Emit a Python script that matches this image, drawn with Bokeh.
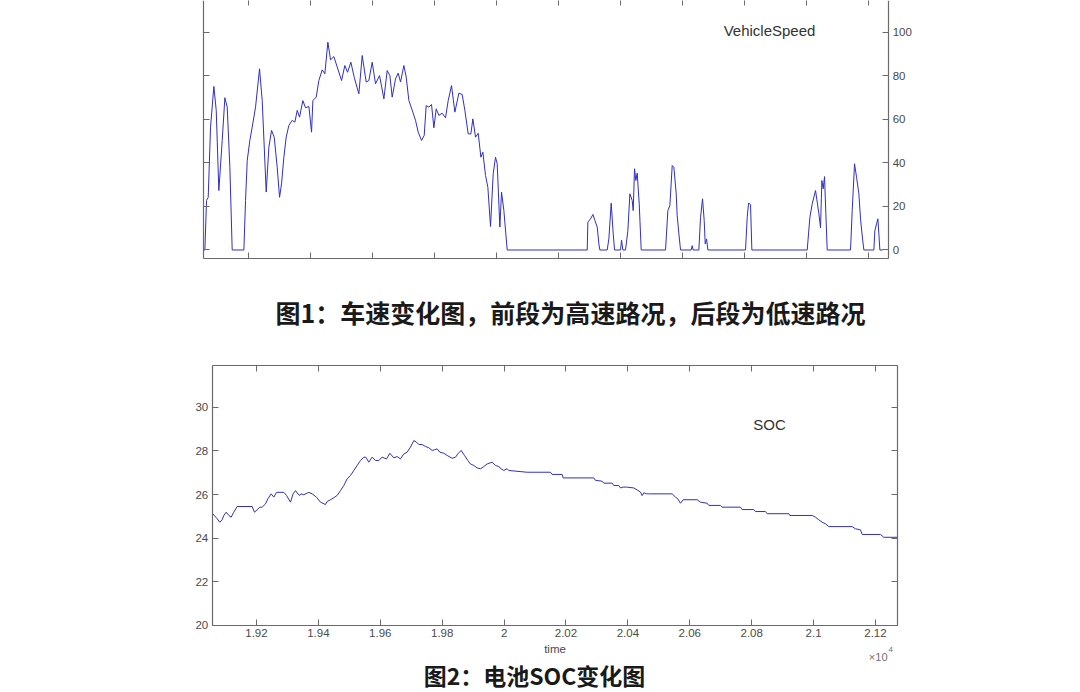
from bokeh.plotting import figure
from bokeh.layouts import column
from bokeh.models import (Range1d, LinearAxis, FixedTicker, Label, CustomLabelingPolicy)
from bokeh.embed import file_html
from bokeh.resources import INLINE

# ---- data -------------------------------------------------------------
speed_time = [19057, 19060.3, 19065.7, 19071.1, 19078.6, 19089.3, 19096.9, 19105.4, 19116.2,
              19124.8, 19132.3, 19140.9, 19148.4, 19186.0, 19191.4, 19196.8, 19205.3,
              19212.9, 19223.6, 19236.5, 19245.1, 19258.0, 19266.6, 19275.2, 19283.8,
              19293.4, 19301.0, 19307.4, 19314.9, 19322.4, 19331.0, 19341.8, 19350.4,
              19357.9, 19365.4, 19376.1, 19384.7, 19395.5, 19404.1, 19408.4, 19419.1,
              19427.7, 19438.4, 19447.0, 19456.7, 19465.3, 19476.0, 19486.8, 19500.8,
              19511.5, 19520.1, 19530.8, 19541.6, 19556.6, 19567.4, 19580.2, 19588.8,
              19599.6, 19610.3, 19623.2, 19637.2, 19647.9, 19656.5, 19664.0, 19674.8,
              19683.4, 19690.9, 19701.6, 19709.2, 19717.8, 19730.6, 19739.2, 19747.8,
              19758.6, 19767.2, 19773.6, 19782.2, 19790.8, 19798.3, 19805.8, 19814.4,
              19825.1, 19835.9, 19844.5, 19855.2, 19866.0, 19878.9, 19889.6, 19898.2,
              19908.9, 19917.5, 19924.0, 19932.6, 19941.2, 19949.8, 19956.2, 19964.8,
              19972.3, 19980.9, 19989.5, 19997.0, 20002.4, 20011.0, 20016.4, 20023.9,
              20034.6, 20292.5, 20294.6, 20303.2, 20310.8, 20317.2, 20324.7, 20330.1,
              20333.3, 20356.9, 20362.3, 20369.8, 20376.3, 20380.6, 20399.9, 20403.1,
              20407.4, 20416.0, 20423.5, 20430.0, 20437.5, 20440.7, 20445.0, 20449.3,
              20453.6, 20460.1, 20466.5, 20544.9, 20552.4, 20558.9, 20566.4, 20571.8,
              20579.3, 20582.5, 20587.9, 20593.3, 20627.6, 20630.9, 20634.1, 20652.3,
              20657.7, 20664.2, 20669.5, 20672.8, 20677.1, 20681.4, 20802.7, 20808.1,
              20812.4, 20818.8, 20823.1, 21001.5, 21010.1, 21017.6, 21028.3, 21033.7,
              21039.1, 21044.4, 21048.7, 21053.0, 21057.3, 21061.6, 21065.9, 21141.1,
              21146.5, 21154.0, 21160.5, 21168.0, 21173.3, 21179.8, 21184.1, 21216.3,
              21219.5, 21224.9, 21229.2, 21232.4, 21235.6, 21245.0]
speed_kmh = [0, 0, 22.7, 24.2, 56.4, 75.1, 64.1, 27.3, 50.3,
             69.9, 65.6, 38.0, 0, 0, 22.7, 41.1, 50.3,
             56.4, 65.6, 83.2, 68.6, 26.6, 47.2, 54.9, 51.8,
             38.0, 24.2, 30.4, 42.6, 51.8, 57.2, 59.5, 58.7,
             64.1, 61.0, 68.6, 65.3, 65.9, 54.1, 68.6, 70.2,
             77.8, 82.7, 80.9, 95.4, 87.3, 88.8, 84.0, 77.8,
             84.7, 81.6, 86.2, 79.3, 71.7, 89.3, 77.1, 77.8,
             86.2, 76.3, 80.1, 69.4, 82.4, 80.1, 70.2, 78.6,
             81.2, 77.1, 84.7, 79.4, 68.6, 63.3, 59.5, 54.1,
             50.3, 52.6, 66.3, 65.6, 66.8, 56.1, 64.8, 61.8,
             62.8, 60.7, 68.6, 75.5, 63.3, 72.0, 71.4, 64.1,
             53.3, 53.3, 60.2, 51.8, 53.6, 42.6, 44.9, 34.2,
             28.8, 10.8, 35.0, 42.6, 39.6, 10.5, 26.6, 18.1,
             0, 0, 12.8, 14.3, 16.3, 13.6, 10.5, 2.8,
             0, 0, 5.1, 21.5, 7.4, 0, 0, 4.6,
             0, 0, 8.9, 25.8, 22.7, 18.1, 37.3, 31.9,
             35.3, 21.2, 0, 0, 18.1, 20.4, 38.8, 38.0,
             25.8, 15.8, 7.4, 0, 0, 2.0, 0, 0,
             15.0, 23.5, 13.5, 2.8, 5.1, 0, 0, 15.0,
             21.5, 20.9, 0, 0, 15.0, 21.2, 27.3, 22.0,
             16.6, 10.2, 31.9, 28.1, 33.7, 16.6, 0, 0,
             18.1, 39.6, 33.4, 25.8, 14.3, 5.1, 0, 0,
             8.9, 12.0, 14.3, 7.4, 0, 0]

soc_time = [19056.7, 19072.9, 19081.5, 19089.0, 19094.4, 19102.0, 19110.6, 19118.1, 19126.7,
            19137.5, 19186.0, 19193.5, 19202.1, 19210.7, 19218.3, 19229.0, 19236.6,
            19247.3, 19256.0, 19264.6, 19288.3, 19296.9, 19309.8, 19318.4, 19326.0,
            19333.5, 19340.0, 19344.3, 19352.9, 19369.1, 19379.8, 19393.8, 19406.7,
            19422.9, 19428.3, 19439.0, 19449.8, 19460.6, 19471.4, 19482.1, 19492.9,
            19503.7, 19514.4, 19525.2, 19536.0, 19546.8, 19553.2, 19562.9, 19573.7,
            19584.4, 19595.2, 19606.0, 19620.0, 19630.8, 19643.7, 19654.5, 19665.2,
            19676.0, 19686.8, 19697.5, 19708.3, 19716.9, 19724.5, 19735.2, 19746.0,
            19756.8, 19767.5, 19775.1, 19783.7, 19792.3, 19805.2, 19816.0, 19832.2,
            19843.0, 19850.5, 19861.2, 19872.0, 19882.8, 19891.4, 19902.2, 19912.9,
            19923.7, 19934.5, 19945.2, 19961.4, 19972.2, 19982.9, 19990.5, 19999.1,
            20009.9, 20015.2, 20074.5, 20149.9, 20155.3, 20187.6, 20190.8, 20289.9,
            20295.3, 20316.8, 20322.2, 20349.2, 20354.5, 20370.7, 20376.1, 20384.7,
            20395.5, 20419.2, 20429.9, 20440.7, 20446.1, 20451.5, 20460.1, 20467.6,
            20543.0, 20553.8, 20561.3, 20569.9, 20578.6, 20623.8, 20634.6, 20656.1,
            20661.5, 20699.2, 20704.6, 20763.8, 20769.2, 20806.9, 20812.3, 20844.6,
            20850.0, 20920.0, 20923.2, 20995.4, 21006.1, 21016.9, 21027.7, 21038.4,
            21049.2, 21124.6, 21135.4, 21151.5, 21156.9, 21216.1, 21226.9, 21269.9]
soc_pct = [25.15, 24.89, 24.73, 24.84, 25.04, 25.19, 25.04, 24.96, 25.19,
           25.45, 25.45, 25.19, 25.30, 25.42, 25.42, 25.57, 25.80,
           26.03, 25.88, 26.10, 26.10, 25.96, 25.65, 26.03, 26.18,
           26.03, 25.96, 26.03, 25.99, 26.10, 26.03, 25.88, 25.65,
           25.54, 25.68, 25.76, 25.85, 25.96, 26.18, 26.41, 26.72,
           26.87, 27.10, 27.33, 27.56, 27.71, 27.71, 27.48, 27.71,
           27.56, 27.56, 27.71, 27.63, 27.89, 27.68, 27.74, 27.63,
           27.86, 27.94, 28.17, 28.47, 28.40, 28.29, 28.29, 28.20,
           28.14, 28.02, 28.05, 28.09, 27.94, 27.89, 27.79, 27.66,
           27.71, 27.86, 28.02, 27.79, 27.56, 27.40, 27.33, 27.22,
           27.18, 27.28, 27.40, 27.48, 27.33, 27.28, 27.18, 27.10,
           27.18, 27.10, 27.02, 27.02, 26.92, 26.92, 26.76, 26.76,
           26.65, 26.61, 26.52, 26.52, 26.41, 26.41, 26.30, 26.34,
           26.34, 26.30, 26.21, 26.11, 25.95, 26.08, 26.03, 26.03,
           26.03, 25.88, 25.80, 25.60, 25.76, 25.76, 25.65, 25.60,
           25.50, 25.50, 25.42, 25.42, 25.31, 25.31, 25.22, 25.22,
           25.12, 25.12, 25.04, 25.04, 24.96, 24.84, 24.73, 24.66,
           24.53, 24.53, 24.43, 24.38, 24.17, 24.17, 24.04, 24.04]

time_ticks = [19200, 19400, 19600, 19800, 20000, 20200, 20400, 20600, 20800, 21000, 21200]
time_tick_labels = ["1.92", "1.94", "1.96", "1.98", "2", "2.02", "2.04", "2.06", "2.08", "2.1", "2.12"]
speed_ticks = [0, 20, 40, 60, 80, 100]
soc_ticks = [20, 22, 24, 26, 28, 30]

# ---- styling ----------------------------------------------------------
W = 1080
LINE = "#2f2fc4"
AXIS = "#6a6a6a"
TICKTXT = "#4a4a4a"
FONT = "Liberation Sans"
CJK = "Noto Sans CJK SC"
NO_LABELS = "for (const i of indices) indices.unset(i)"

# axes box of each panel, in data units
SPEED_BOX = dict(left=19057, right=21264, bottom=-4.04, top=115.0)
SOC_BOX = dict(left=19057, right=21270, bottom=20.0, top=31.91)


def make_axis(ticks, loc, bounds, labels=True, overrides=None, line=True):
    ax = LinearAxis(ticker=FixedTicker(ticks=ticks), fixed_location=loc, bounds=bounds)
    ax.major_tick_in = 6
    ax.major_tick_out = 0
    ax.minor_tick_line_color = None
    ax.major_tick_line_color = AXIS
    ax.axis_line_color = AXIS if line else None
    ax.axis_line_width = 1.2
    ax.major_label_text_font = FONT
    ax.major_label_text_color = TICKTXT
    ax.major_label_text_font_size = "11.5px"
    ax.major_label_standoff = 4
    if labels:
        if overrides:
            ax.major_label_overrides = overrides
    else:
        ax.major_label_policy = CustomLabelingPolicy(code=NO_LABELS)
    return ax


def blank_figure(height, x_range, y_range):
    p = figure(width=W, height=height, output_backend="svg", toolbar_location=None,
               x_range=x_range, y_range=y_range,
               x_axis_location=None, y_axis_location=None,
               min_border=0)
    p.outline_line_color = None
    p.grid.visible = False
    p.background_fill_color = "white"
    p.border_fill_color = "white"
    return p


def label(p, x, y, text, size, align="center", font=FONT, bold=False, color="#333333"):
    p.add_layout(Label(x=x, y=y, x_units="screen", y_units="screen", text=text,
                       text_font=font, text_font_size=size,
                       text_font_style="bold" if bold else "normal",
                       text_color=color, text_align=align, text_baseline="middle"))


overrides = {t: s for t, s in zip(time_ticks, time_tick_labels)}

# ---- vehicle speed ----------------------------------------------------
H1 = 345
p1 = blank_figure(H1, Range1d(18401.7, 21882.2), Range1d(-43.85, 114.55))
b = SPEED_BOX
xb = (b["left"], b["right"])
yb = (b["bottom"], b["top"])
p1.add_layout(make_axis(time_ticks, b["bottom"], xb, labels=False), "below")
p1.add_layout(make_axis(time_ticks, b["top"], xb, labels=False), "above")
p1.add_layout(make_axis(speed_ticks, b["left"], yb, labels=False), "left")
p1.add_layout(make_axis(speed_ticks, b["right"], yb, labels=True), "right")

p1.line(speed_time, speed_kmh, line_color=LINE, line_width=1)

label(p1, 769, 315, "VehicleSpeed", "15px")
label(p1, 570, 34, "图1：车速变化图，前段为高速路况，后段为低速路况", "25px",
      font=CJK, bold=True, color="#1a1a1a")

# ---- battery SOC ------------------------------------------------------
H2 = 347
p2 = blank_figure(H2, Range1d(18372.9, 21862.4), Range1d(16.93, 32.826))
b = SOC_BOX
xb = (b["left"], b["right"])
yb = (b["bottom"], b["top"])
xax = make_axis(time_ticks, b["bottom"], xb, labels=True, overrides=overrides)
xax.axis_label = "time"
xax.axis_label_text_font = FONT
xax.axis_label_text_font_size = "11.5px"
xax.axis_label_text_font_style = "normal"
xax.axis_label_text_color = TICKTXT
xax.axis_label_standoff = 2
p2.add_layout(xax, "below")
p2.add_layout(make_axis(time_ticks, b["top"], xb, labels=False), "above")
p2.add_layout(make_axis(soc_ticks, b["left"], yb, labels=True), "left")
p2.add_layout(make_axis(soc_ticks, b["right"], yb, labels=False), "right")

p2.line(soc_time, soc_pct, line_color=LINE, line_width=1)

label(p2, 769, 268, "SOC", "15px")
# axis multiplier: ×10 with a raised exponent
label(p2, 887, 36, "×10", "11px", align="right", color="#707070")
label(p2, 888, 43, "4", "8px", align="left", color="#707070")
label(p2, 534, 18, "图2：电池SOC变化图", "23px", font=CJK, bold=True, color="#1a1a1a")

layout = column(p1, p2, spacing=0)
open("out.html", "w").write(file_html(layout, INLINE))
